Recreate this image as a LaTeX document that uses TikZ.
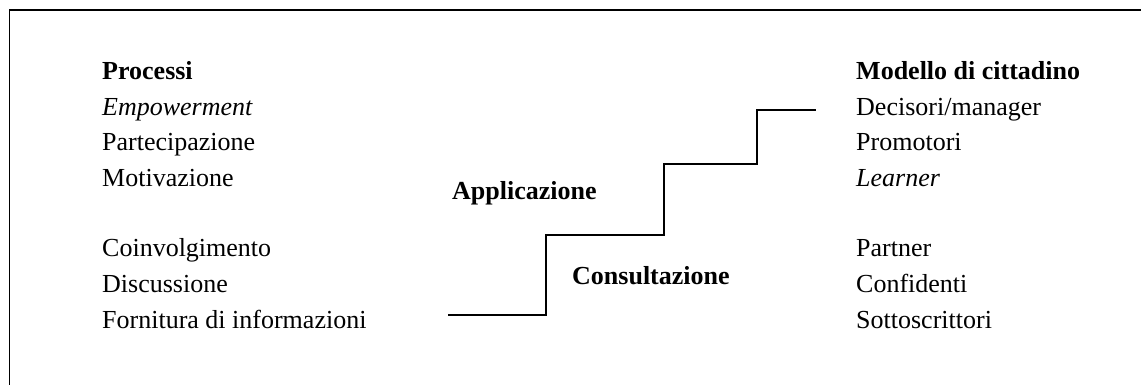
\documentclass[tikz,border=0pt]{standalone}
\usepackage{fontspec}
\setmainfont{Liberation Serif}
\begin{document}
\begin{tikzpicture}[x=1pt,y=-1pt,
  label/.style={anchor=base west,inner sep=0pt,font=\fontsize{26}{30}\selectfont},
  heading/.style={label,font=\fontsize{26}{30}\selectfont\bfseries},
  stair/.style={line width=1.4pt,line join=miter},
  frame/.style={line width=1.6pt}]
\useasboundingbox (0,0) rectangle (1141,385);
% open frame: top and left edges
\draw[frame] (9.5,385) -- (9.5,10) -- (1141,10);

% left column: processes
\node[heading] (proc) at (102,80) {Processi};
\node[label] (emp) at (102,115.5) {\itshape Empowerment};
\node[label] (part) at (102,151) {Partecipazione};
\node[label] (mot) at (102,186.5) {Motivazione};
\node[label] (coin) at (102,256) {Coinvolgimento};
\node[label] (disc) at (102,292) {Discussione};
\node[label] (forn) at (102,328) {Fornitura di informazioni};

% right column: citizen model
\node[heading] (mod) at (856,80) {Modello di cittadino};
\node[label] (dec) at (856,115.5) {Decisori/manager};
\node[label] (prom) at (856,151) {Promotori};
\node[label] (learn) at (856,186.5) {\itshape Learner};
\node[label] (partn) at (856,256) {Partner};
\node[label] (conf) at (856,292) {Confidenti};
\node[label] (sott) at (856,328) {Sottoscrittori};

% step labels
\node[heading] (appl) at (452,200) {Applicazione};
\node[heading] (cons) at (572,284) {Consultazione};

% staircase
\coordinate (s0) at (448,315);
\coordinate (s1) at (546,315);
\coordinate (s2) at (546,235);
\coordinate (s3) at (664,235);
\coordinate (s4) at (664,164);
\coordinate (s5) at (757,164);
\coordinate (s6) at (757,110);
\coordinate (s7) at (816,110);
\draw[stair] (s0) -- (s1) -- (s2) -- (s3) -- (s4) -- (s5) -- (s6) -- (s7);
\end{tikzpicture}
\end{document}
